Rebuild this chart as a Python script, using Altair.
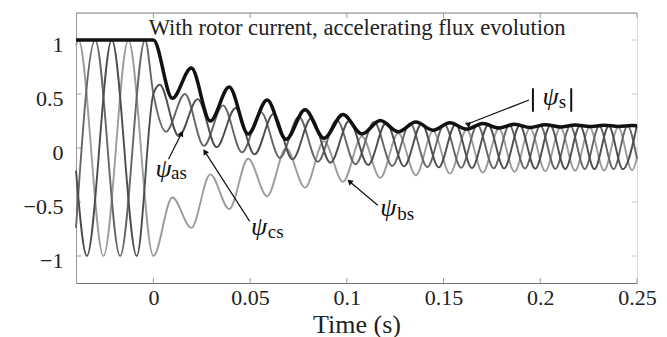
import altair as alt
import pandas as pd

# |psi_s| (thick black): steady value before 0, then extrema
t_mag = [-0.04, 0.0, 0.0098, 0.0196, 0.0294, 0.0392, 0.049, 0.0588, 0.0686, 0.0784, 0.0882,
         0.098, 0.1078, 0.1173, 0.1266, 0.1357, 0.1446, 0.1533, 0.1619, 0.1703, 0.1786, 0.1867,
         0.1947, 0.2026, 0.2104, 0.218, 0.2255, 0.233, 0.2403, 0.2475, 0.25]
v_mag = [1.0, 1.0, 0.46, 0.74, 0.25, 0.565, 0.13, 0.445, 0.08, 0.355, 0.09,
         0.31, 0.13, 0.255, 0.15, 0.24, 0.165, 0.233, 0.175, 0.226, 0.185, 0.22,
         0.19, 0.216, 0.195, 0.213, 0.198, 0.21, 0.20, 0.208, 0.207]

# psi_as (dark gray)
t_a = [-0.04, -0.0344, -0.0215, -0.0086, 0.0, 0.0033, 0.0131, 0.0229, 0.0327, 0.0425, 0.0523,
       0.0621, 0.0719, 0.0817, 0.0915, 0.1013, 0.111, 0.1204, 0.1296, 0.1387, 0.1475, 0.1562,
       0.1647, 0.1731, 0.1813, 0.1894, 0.1974, 0.2052, 0.2129, 0.2205, 0.228, 0.2354, 0.2427,
       0.2499]
v_a = [-0.21, -1.0, 1.0, -1.0, 0.5, 0.585, 0.11, 0.453, 0.008, 0.371, -0.059,
       0.316, -0.105, 0.278, -0.136, 0.253, -0.157, 0.236, -0.17, 0.225, -0.179, 0.218,
       -0.185, 0.213, -0.189, 0.209, -0.192, 0.207, -0.194, 0.205, -0.196, 0.204, -0.197,
       0.203]

# psi_bs (light gray)
t_b = [-0.04, -0.0387, -0.0258, -0.0129, 0.0, 0.0098, 0.0196, 0.0294, 0.0392, 0.049, 0.0588,
       0.0686, 0.0784, 0.0882, 0.098, 0.1078, 0.1173, 0.1266, 0.1357, 0.1446, 0.1533, 0.1619,
       0.1703, 0.1786, 0.1867, 0.1947, 0.2026, 0.2104, 0.218, 0.2255, 0.233, 0.2403, 0.2475,
       0.25]
v_b = [0.95, 1.0, -1.0, 1.0, -1.0, -0.458, -0.74, -0.244, -0.565, -0.10, -0.447,
       -0.003, -0.367, 0.063, -0.313, 0.107, -0.277, 0.136, -0.253, 0.156, -0.237, 0.169,
       -0.227, 0.178, -0.219, 0.184, -0.214, 0.188, -0.21, 0.191, -0.208, 0.193, -0.206,
       -0.09]

# psi_cs (mid-dark gray)
t_c = [-0.04, -0.0301, -0.0172, -0.0043, 0.0, 0.0065, 0.0163, 0.0261, 0.036, 0.0458, 0.0556,
       0.0654, 0.0752, 0.085, 0.0948, 0.1045, 0.1141, 0.1235, 0.1327, 0.1416, 0.1504, 0.1591,
       0.1675, 0.1759, 0.184, 0.1921, 0.2, 0.2078, 0.2155, 0.223, 0.2305, 0.2379, 0.2451,
       0.25]
v_c = [-0.74, 1.0, -1.0, 1.0, 0.5, 0.151, 0.50, 0.02, 0.395, -0.04, 0.332,
       -0.092, 0.289, -0.127, 0.26, -0.151, 0.241, -0.166, 0.228, -0.176, 0.22, -0.183,
       0.214, -0.188, 0.21, -0.19, 0.207, -0.193, 0.205, -0.195, 0.204, -0.196, 0.203,
       -0.10]

x_ticks = [0, 0.05, 0.1, 0.15, 0.2, 0.25]
y_ticks = [-1, -0.5, 0, 0.5, 1]

W, H = 561, 270
FONT = "Liberation Serif"

def series(ts, vs, name):
    return pd.DataFrame({"t": ts, "v": vs, "s": name, "o": range(len(ts))})

df = pd.concat([
    series(t_b, v_b, "bs"),
    series(t_c, v_c, "cs"),
    series(t_a, v_a, "as"),
])
df_mag = series(t_mag, v_mag, "mag")

xs = alt.Scale(domain=[-0.04, 0.25], nice=False, zero=False)
ys = alt.Scale(domain=[-1.25, 1.25], nice=False, zero=False)

phase_lines = alt.Chart(df).mark_line(interpolate="monotone", strokeWidth=1.9).encode(
    x=alt.X("t:Q", scale=xs, axis=alt.Axis(values=x_ticks, title="Time (s)", grid=False,
            ticks=False, labelFont=FONT, labelFontSize=22, labelColor="#222",
            labelExpr="format(datum.value, '~g')",
            titleFont=FONT, titleFontSize=26, titleFontWeight="normal", titleColor="#222",
            labelPadding=4, titlePadding=3, domainColor="#777", labelFlush=False)),
    y=alt.Y("v:Q", scale=ys, axis=alt.Axis(values=y_ticks, title=None, grid=False, ticks=False,
            labelFont=FONT, labelFontSize=22, labelColor="#222", labelPadding=13,
            labelExpr="format(datum.value, '~g')", labelOffset=4,
            domainColor="#999")),
    color=alt.Color("s:N", scale=alt.Scale(domain=["as", "bs", "cs"],
                    range=["#4d4d4d", "#9c9c9c", "#666666"]), legend=None),
    detail="s:N",
    order="o:Q",
)

mag_line = alt.Chart(df_mag).mark_line(interpolate="monotone", strokeWidth=3.5, color="#111").encode(
    x=alt.X("t:Q", scale=xs), y=alt.Y("v:Q", scale=ys), order="o:Q")

top_border = alt.Chart(pd.DataFrame({"a": [0]})).mark_rule(color="#888").encode(
    x=alt.value(0), x2=alt.value(W), y=alt.value(0))

tick_df = pd.DataFrame({"t": x_ticks})
xt_bot = alt.Chart(tick_df).mark_rule(color="#999").encode(
    x=alt.X("t:Q", scale=xs), y=alt.value(H), y2=alt.value(H - 5))
xt_top = alt.Chart(tick_df).mark_rule(color="#999").encode(
    x=alt.X("t:Q", scale=xs), y=alt.value(0), y2=alt.value(5))
ytick_df = pd.DataFrame({"v": y_ticks})
yt_left = alt.Chart(ytick_df).mark_rule(color="#999").encode(
    y=alt.Y("v:Q", scale=ys), x=alt.value(0), x2=alt.value(5))
yt_right = alt.Chart(ytick_df).mark_rule(color="#ccc").encode(
    y=alt.Y("v:Q", scale=ys), x=alt.value(W - 5), x2=alt.value(W))

title_df = pd.DataFrame({"t": [0.1053], "v": [1.05], "txt": ["With rotor current, accelerating flux evolution"]})
title_txt = alt.Chart(title_df).mark_text(font=FONT, fontSize=22.6, color="#222", baseline="alphabetic").encode(
    x=alt.X("t:Q", scale=xs), y=alt.Y("v:Q", scale=ys), text="txt:N")

# annotation labels: psi + subscript
psi_df = pd.DataFrame({"t": [0.0053, 0.0547, 0.1215], "v": [-0.27, -0.805, -0.63]})
psi_txt = alt.Chart(psi_df).mark_text(font=FONT, fontSize=26, fontStyle="italic", color="#111",
                                      baseline="alphabetic").encode(
    x=alt.X("t:Q", scale=xs), y=alt.Y("v:Q", scale=ys), text=alt.value("ψ"))
sub_df = pd.DataFrame({"t": [0.0091, 0.0591, 0.1261], "v": [-0.29, -0.833, -0.667], "txt": ["as", "cs", "bs"]})
sub_txt = alt.Chart(sub_df).mark_text(font=FONT, fontSize=19, color="#111", align="left",
                                      baseline="alphabetic").encode(
    x=alt.X("t:Q", scale=xs), y=alt.Y("v:Q", scale=ys), text="txt:N")

mag_lab_df = pd.DataFrame({"t": [0.2053], "v": [0.40], "txt": ["ψ"]})
mag_lab = alt.Chart(mag_lab_df).mark_text(font=FONT, fontSize=26, fontStyle="italic", color="#111",
                                          baseline="alphabetic").encode(
    x=alt.X("t:Q", scale=xs), y=alt.Y("v:Q", scale=ys), text="txt:N")
mag_sub = alt.Chart(pd.DataFrame({"t": [0.2096], "v": [0.37], "txt": ["s"]})).mark_text(
    font=FONT, fontSize=19, color="#111", align="left", baseline="alphabetic").encode(
    x=alt.X("t:Q", scale=xs), y=alt.Y("v:Q", scale=ys), text="txt:N")
bars_df = pd.DataFrame({"t": [0.1962, 0.1962, 0.2160, 0.2160], "v": [0.553, 0.336, 0.553, 0.336], "g": [0, 0, 1, 1]})
bars = alt.Chart(bars_df).mark_line(color="#111", strokeWidth=2).encode(
    x=alt.X("t:Q", scale=xs), y=alt.Y("v:Q", scale=ys), detail="g:N")

# arrows: tail -> tip
arr_t = [0.0078, 0.0146, 0.0498, 0.0266, 0.1160, 0.1014, 0.1942, 0.1624]
arr_v = [-0.105, 0.136, -0.68, -0.034, -0.53, -0.31, 0.444, 0.222]
arr_g = [0, 0, 1, 1, 2, 2, 3, 3]
arrows = alt.Chart(pd.DataFrame({"t": arr_t, "v": arr_v, "g": arr_g})).mark_line(
    color="#111", strokeWidth=1.2).encode(
    x=alt.X("t:Q", scale=xs), y=alt.Y("v:Q", scale=ys), detail="g:N")
tips = alt.Chart(pd.DataFrame({"t": [0.0146, 0.0266, 0.1014, 0.1624],
                               "v": [0.136, -0.034, -0.31, 0.222],
                               "ang": [27, 327, 310, 290]})).mark_point(
    shape="triangle-up", filled=True, size=40, color="#111", opacity=1).encode(
    x=alt.X("t:Q", scale=xs), y=alt.Y("v:Q", scale=ys), angle=alt.Angle("ang:Q", scale=None))

chart = alt.layer(
    top_border, xt_bot, xt_top, yt_left, yt_right,
    phase_lines, mag_line, title_txt, psi_txt, sub_txt, mag_lab, mag_sub, bars, arrows, tips
).properties(
    width=W, height=H,
    autosize=alt.AutoSizeParams(type="none"),
    padding={"left": 76, "top": 13, "right": 30, "bottom": 54},
).configure_view(stroke=None, fill="#f7f7f7").configure(background="white")

chart.save("out.html", embed_options={"renderer": "svg", "actions": False})
